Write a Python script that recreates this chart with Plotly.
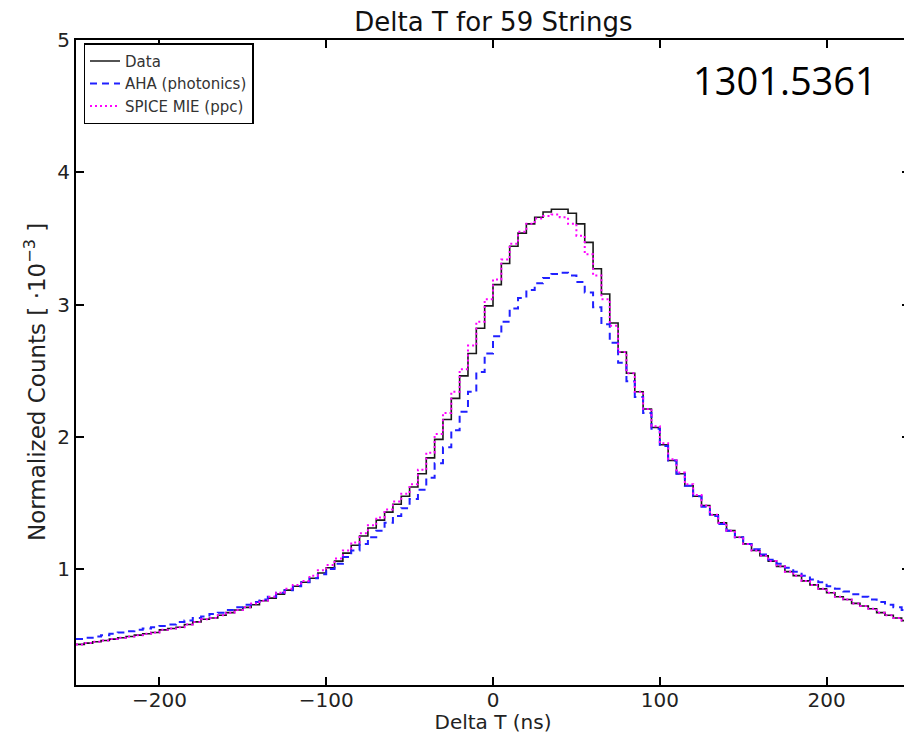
import numpy as np
import plotly.graph_objects as go

# bin edges of the Delta T histogram (ns), 5 ns bins
bin_edges = np.arange(-250, 251, 5)

# normalized counts [1e-3] per bin
data_counts = [
    0.43, 0.44, 0.45, 0.46, 0.47, 0.48, 0.49, 0.50, 0.51, 0.52,
    0.54, 0.55, 0.56, 0.58, 0.60, 0.62, 0.63, 0.65, 0.67, 0.69,
    0.71, 0.73, 0.76, 0.78, 0.81, 0.84, 0.87, 0.90, 0.93, 0.97,
    1.01, 1.06, 1.12, 1.18, 1.25, 1.31, 1.37, 1.43, 1.49, 1.55,
    1.62, 1.72, 1.84, 1.98, 2.13, 2.29, 2.46, 2.63, 2.82, 2.99,
    3.15, 3.31, 3.44, 3.54, 3.61, 3.66, 3.70, 3.72, 3.72, 3.69,
    3.61, 3.47, 3.27, 3.08, 2.86, 2.64, 2.48, 2.34, 2.21, 2.07,
    1.94, 1.82, 1.72, 1.63, 1.55, 1.48, 1.41, 1.35, 1.29, 1.24,
    1.19, 1.14, 1.10, 1.06, 1.02, 0.98, 0.95, 0.91, 0.88, 0.85,
    0.82, 0.79, 0.77, 0.74, 0.72, 0.70, 0.67, 0.65, 0.63, 0.61,
]
aha_counts = [
    0.47, 0.48, 0.49, 0.50, 0.51, 0.52, 0.53, 0.54, 0.55, 0.56,
    0.57, 0.58, 0.60, 0.61, 0.63, 0.64, 0.66, 0.67, 0.69, 0.71,
    0.73, 0.75, 0.77, 0.79, 0.82, 0.84, 0.87, 0.90, 0.93, 0.96,
    1.00, 1.04, 1.09, 1.14, 1.19, 1.24, 1.29, 1.35, 1.40, 1.46,
    1.53, 1.60, 1.69, 1.80, 1.92, 2.05, 2.19, 2.34, 2.49, 2.63,
    2.76, 2.87, 2.97, 3.05, 3.11, 3.16, 3.20, 3.23, 3.24, 3.22,
    3.17, 3.09, 2.98, 2.85, 2.71, 2.56, 2.42, 2.30, 2.18, 2.06,
    1.93, 1.82, 1.72, 1.63, 1.55, 1.47, 1.40, 1.34, 1.29, 1.24,
    1.19, 1.15, 1.11, 1.07, 1.04, 1.01, 0.98, 0.95, 0.92, 0.90,
    0.87, 0.85, 0.83, 0.81, 0.79, 0.77, 0.75, 0.73, 0.71, 0.69,
]
spice_counts = [
    0.43, 0.44, 0.45, 0.46, 0.47, 0.48, 0.49, 0.50, 0.51, 0.52,
    0.54, 0.55, 0.56, 0.58, 0.60, 0.62, 0.63, 0.65, 0.67, 0.69,
    0.71, 0.74, 0.76, 0.79, 0.82, 0.85, 0.88, 0.91, 0.95, 0.99,
    1.03, 1.08, 1.14, 1.20, 1.27, 1.33, 1.39, 1.45, 1.51, 1.57,
    1.64, 1.75, 1.88, 2.02, 2.18, 2.34, 2.51, 2.69, 2.87, 3.04,
    3.19, 3.34, 3.46, 3.55, 3.61, 3.65, 3.67, 3.68, 3.66, 3.61,
    3.52, 3.38, 3.22, 3.04, 2.84, 2.64, 2.48, 2.34, 2.21, 2.08,
    1.95, 1.83, 1.73, 1.64, 1.56, 1.48, 1.41, 1.35, 1.29, 1.24,
    1.19, 1.14, 1.10, 1.06, 1.02, 0.98, 0.95, 0.91, 0.88, 0.85,
    0.82, 0.79, 0.77, 0.74, 0.72, 0.70, 0.67, 0.65, 0.63, 0.61,
]

series = [
    ("Data", data_counts, dict(color="#1a1a1a", width=1.6)),
    ("AHA (photonics)", aha_counts, dict(color="#2020ff", width=2, dash="7px,5px")),
    ("SPICE MIE (ppc)", spice_counts, dict(color="#ff00ff", width=2, dash="2px,3px")),
]

fig = go.Figure()
for name, counts, line in series:
    # step histogram: repeat last bin value at the closing edge
    fig.add_trace(go.Scatter(
        x=bin_edges, y=list(counts) + [counts[-1]],
        mode="lines", line_shape="hv", line=line, name=name,
    ))

# the page body adds an 8px margin, so the figure is shrunk to fit the window
font = "DejaVu Sans"
fig.update_layout(
    width=904, height=726,
    paper_bgcolor="white", plot_bgcolor="white",
    margin=dict(l=68, r=2, t=32, b=49, autoexpand=False),
    font=dict(family=font, color="#222", size=15),
    title=dict(text="Delta T for 59 Strings", x=0.537, xanchor="center",
               y=0.981, yanchor="middle", font=dict(size=26, color="#111")),
    showlegend=True,
    legend=dict(x=0.009, y=0.995, xanchor="left", yanchor="top",
                bordercolor="black", borderwidth=1.5, bgcolor="white",
                font=dict(size=15, color="#333"), tracegroupgap=0,
                itemwidth=30),
    annotations=[
        dict(text="1301.5361", xref="paper", yref="paper",
             x=0.85, y=0.938, xanchor="center", yanchor="middle",
             showarrow=False,
             font=dict(family="Open Sans", size=38, color="black")),
        dict(text="Normalized Counts [ \u00b710<sup>\u22123</sup> ]",
             xref="paper", yref="paper", x=-0.049, y=0.47,
             xanchor="center", yanchor="middle", textangle=-90,
             showarrow=False, font=dict(size=23, color="#222")),
    ],
)
fig.update_xaxes(
    range=[-250, 250], tickvals=[-200, -100, 0, 100, 200],
    ticktext=["\u2212200", "\u2212100", "0", "100", "200"],
    ticks="inside", ticklen=8, tickwidth=2, tickcolor="black",
    showline=True, linecolor="black", linewidth=2, mirror="ticks",
    showgrid=False, zeroline=False, tickfont=dict(size=20),
    automargin=False, ticklabelstandoff=-4,
    title=dict(text="Delta T (ns)", standoff=2, font=dict(size=20)),
)
fig.update_yaxes(
    range=[0.123, 5], tickvals=[1, 2, 3, 4, 5],
    ticks="inside", ticklen=8, tickwidth=2, tickcolor="black",
    showline=True, linecolor="black", linewidth=2, mirror="ticks",
    showgrid=False, zeroline=False, tickfont=dict(size=20),
    automargin=False,
)

fig.write_html("out.html")
